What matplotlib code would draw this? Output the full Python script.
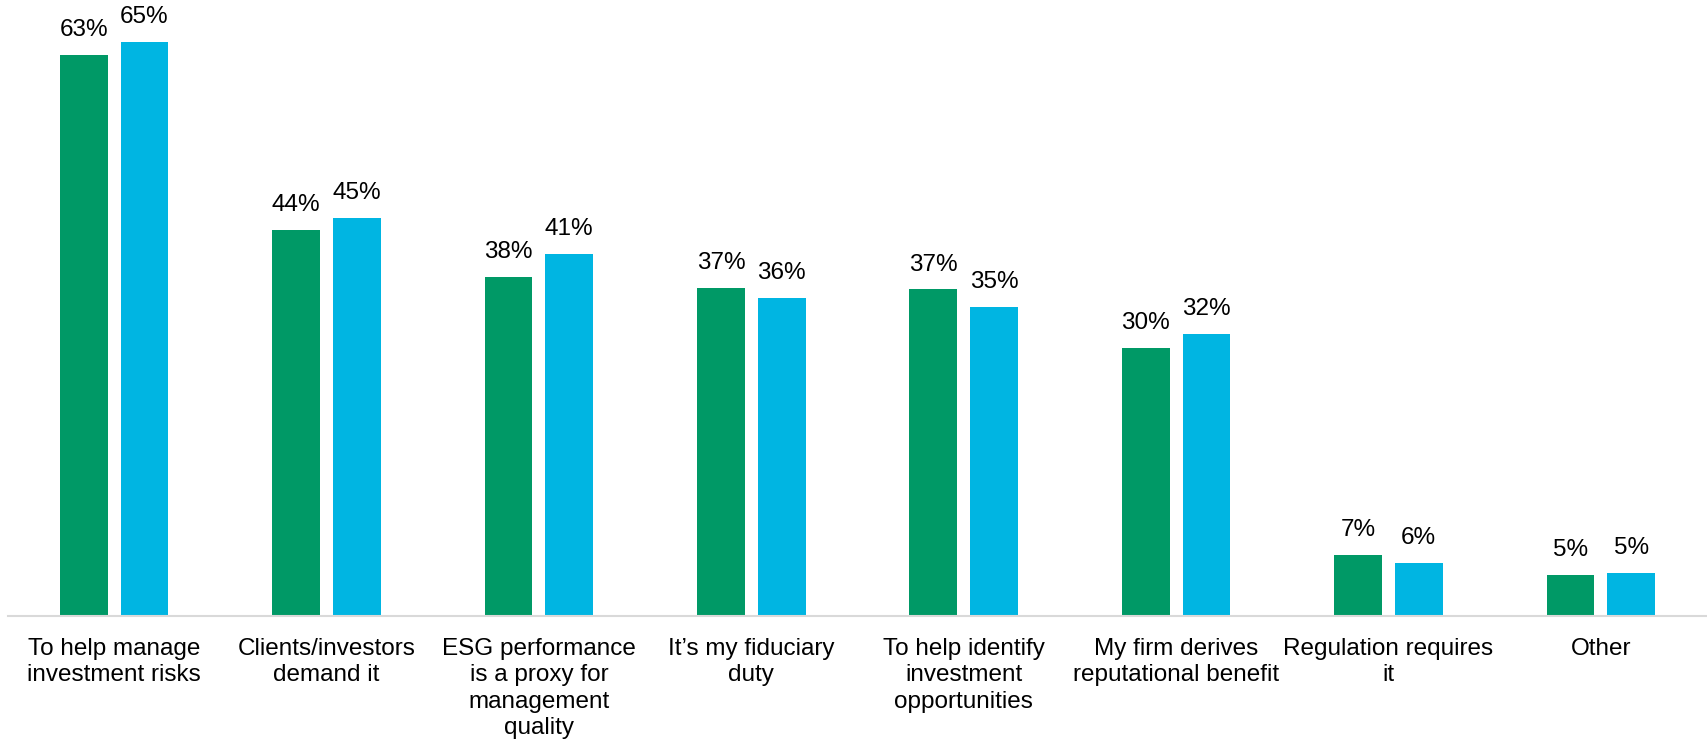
import matplotlib.pyplot as plt
import numpy as np

plt.rcParams['font.family'] = ['Liberation Sans', 'DejaVu Sans']

categories = [
    "To help manage\ninvestment risks",
    "Clients/investors\ndemand it",
    "ESG performance\nis a proxy for\nmanagement\nquality",
    "It\u2019s my fiduciary\nduty",
    "To help identify\ninvestment\nopportunities",
    "My firm derives\nreputational benefit",
    "Regulation requires\nit",
    "Other",
]
# bar heights, labels as printed
series_a = [63.4, 43.6, 38.3, 37.1, 36.9, 30.3, 6.9, 4.6]
series_b = [64.9, 45.0, 40.9, 35.9, 34.9, 31.9, 6.0, 4.9]
labels_a = [63, 44, 38, 37, 37, 30, 7, 5]
labels_b = [65, 45, 41, 36, 35, 32, 6, 5]

green = "#009966"
blue = "#00B5E2"


def main():
    fig = plt.figure(figsize=(17.07, 7.40), dpi=100)
    ax = fig.add_axes([8 / 1707, 124 / 740, 1 - 8 / 1707, 616 / 740])
    x = np.arange(len(categories))
    w = 0.225
    off = 0.143
    bars_a = ax.bar(x - off, series_a, w, color=green)
    bars_b = ax.bar(x + off, series_b, w, color=blue)
    for bars, labs in ((bars_a, labels_a), (bars_b, labels_b)):
        for b, v in zip(bars, labs):
            ax.annotate(f"{v}%", (b.get_x() + b.get_width() / 2, b.get_height()),
                        xytext=(0, 10), textcoords="offset points",
                        ha="center", va="bottom", fontsize=17.5, color="#000000")
    ax.set_xlim(-0.5, 7.5)
    ax.set_ylim(0, 69.6)
    ax.set_xticks(x)
    ax.set_xticklabels(categories, fontsize=17.5, linespacing=1.25)
    ax.tick_params(axis="x", length=0, pad=16)
    ax.set_yticks([])
    for s in ("top", "right", "left"):
        ax.spines[s].set_visible(False)
    ax.spines["bottom"].set_color("#D9D9D9")
    ax.spines["bottom"].set_linewidth(1.5)
    fig.savefig("out.png", dpi=100)


main()
